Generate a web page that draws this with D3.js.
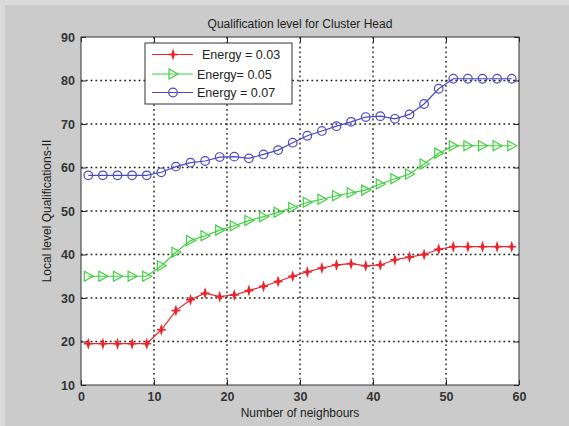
<!DOCTYPE html>
<html>
<head>
<meta charset="utf-8">
<script src="https://cdn.jsdelivr.net/npm/d3@7"></script>
<style>
  html, body { margin: 0; padding: 0; background: #d6d6d6; }
  svg { display: block; font-family: Arial, "Liberation Sans", sans-serif; }
</style>
</head>
<body>
<div id="chart"></div>
<script>
const neighbours = [1, 3, 5, 7, 9, 11, 13, 15, 17, 19, 21, 23, 25, 27, 29, 31, 33, 35, 37, 39, 41, 43, 45, 47, 49, 51, 53, 55, 57, 59];
const energy003 = [19.5, 19.5, 19.5, 19.5, 19.5, 22.7, 27.1, 29.6, 31.1, 30.3, 30.7, 31.7, 32.7, 33.8, 35.0, 36.0, 36.9, 37.6, 37.9, 37.4, 37.6, 38.8, 39.4, 40.0, 41.2, 41.8, 41.8, 41.8, 41.8, 41.8];
const energy005 = [35.0, 35.0, 35.0, 35.0, 35.0, 37.4, 40.5, 43.2, 44.3, 45.6, 46.6, 47.8, 48.7, 49.7, 50.8, 52.0, 52.7, 53.5, 54.2, 54.8, 56.2, 57.4, 58.5, 60.8, 63.3, 65.0, 65.0, 65.0, 65.0, 65.0];
const energy007 = [58.2, 58.2, 58.2, 58.2, 58.2, 58.9, 60.2, 61.1, 61.5, 62.4, 62.5, 62.1, 63.0, 64.0, 65.7, 67.3, 68.4, 69.5, 70.5, 71.6, 71.8, 71.2, 72.2, 74.6, 78.1, 80.4, 80.4, 80.4, 80.4, 80.4];
const seriesNames = ["Energy = 0.03", "Energy= 0.05", "Energy = 0.07"];
const xTicks = [0, 10, 20, 30, 40, 50, 60];
const yTicks = [10, 20, 30, 40, 50, 60, 70, 80, 90];

const width = 569, height = 426;
const margin = { top: 37, right: 50, bottom: 41, left: 81 };
const innerWidth = width - margin.left - margin.right;
const innerHeight = height - margin.top - margin.bottom;

const svg = d3.select("#chart").append("svg")
  .attr("width", width)
  .attr("height", height);

// figure background
svg.append("rect").attr("width", width).attr("height", height).attr("fill", "#dadada");
svg.append("rect").attr("x", 5).attr("y", 5).attr("width", width - 5).attr("height", height - 5).attr("fill", "#cbcbcb");

const g = svg.append("g").attr("transform", `translate(${margin.left},${margin.top})`);

const x = d3.scaleLinear().domain([0, 60]).range([0, innerWidth]);
const y = d3.scaleLinear().domain([10, 90]).range([innerHeight, 0]);

g.append("rect").attr("width", innerWidth).attr("height", innerHeight).attr("fill", "#fff");

// dotted grid
g.append("g").selectAll("line").data(xTicks.slice(1, -1)).join("line")
  .attr("x1", d => x(d)).attr("x2", d => x(d))
  .attr("y1", 0).attr("y2", innerHeight)
  .attr("stroke", "#222").attr("stroke-width", 1.4).attr("stroke-dasharray", "1.8,3");
g.append("g").selectAll("line").data(yTicks.slice(1, -1)).join("line")
  .attr("y1", d => y(d)).attr("y2", d => y(d))
  .attr("x1", 0).attr("x2", innerWidth)
  .attr("stroke", "#222").attr("stroke-width", 1.4).attr("stroke-dasharray", "1.8,3");

// axes (ticks inside, MATLAB style)
const axisStyle = sel => {
  sel.select(".domain").remove();
  sel.selectAll("line").attr("stroke", "#222");
  sel.selectAll("text").attr("fill", "#333").attr("font-size", 12.5).attr("font-weight", "bold");
};
const noLabels = sel => {
  sel.select(".domain").remove();
  sel.selectAll("line").attr("stroke", "#222");
  sel.selectAll("text").remove();
};
g.append("g").attr("transform", `translate(0,${innerHeight})`)
  .call(d3.axisBottom(x).tickValues(xTicks).tickSize(-5).tickPadding(7))
  .call(axisStyle);
g.append("g")
  .call(d3.axisTop(x).tickValues(xTicks).tickSize(-5))
  .call(noLabels);
g.append("g")
  .call(d3.axisLeft(y).tickValues(yTicks).tickSize(-5).tickPadding(6))
  .call(axisStyle);
g.append("g").attr("transform", `translate(${innerWidth},0)`)
  .call(d3.axisRight(y).tickValues(yTicks).tickSize(-5))
  .call(noLabels);

g.append("rect").attr("width", innerWidth).attr("height", innerHeight)
  .attr("fill", "none").attr("stroke", "#333").attr("stroke-width", 1);

// series
const series = [
  { name: seriesNames[0], values: energy003, color: "#e8262b", marker: "star" },
  { name: seriesNames[1], values: energy005, color: "#3fd03f", marker: "tri" },
  { name: seriesNames[2], values: energy007, color: "#4a4ac0", marker: "circle" }
];

const line = d3.line().x(d => x(d[0])).y(d => y(d[1]));

function drawMarker(sel, s) {
  if (s.marker === "circle") {
    sel.append("circle").attr("r", 4.3)
      .attr("fill", "none").attr("stroke", s.color).attr("stroke-width", 1.2);
  } else if (s.marker === "tri") {
    sel.append("path").attr("d", "M-4,-5L5,0L-4,5Z")
      .attr("fill", "none").attr("stroke", s.color).attr("stroke-width", 1.2);
  } else {
    sel.append("path").attr("d", "M0,-6L2,0L0,6L-2,0Z").attr("fill", s.color);
    sel.append("path").attr("d", "M-4.5,0H4.5").attr("stroke", s.color).attr("stroke-width", 1.6);
  }
}

series.forEach(s => {
  const pts = neighbours.map((n, i) => [n, s.values[i]]);
  g.append("path").datum(pts).attr("d", line)
    .attr("fill", "none").attr("stroke", s.color).attr("stroke-width", 1.2);
  g.append("g").selectAll("g").data(pts).join("g")
    .attr("transform", d => `translate(${x(d[0])},${y(d[1])})`)
    .each(function () { drawMarker(d3.select(this), s); });
});

// legend
const legend = svg.append("g").attr("transform", "translate(145,43)");
legend.append("rect").attr("width", 147).attr("height", 61)
  .attr("fill", "#fff").attr("stroke", "#333").attr("stroke-width", 1);
const legendY = [11.5, 31, 49.5];
const textX = [57, 52, 52];
series.forEach((s, i) => {
  const row = legend.append("g").attr("transform", `translate(0,${legendY[i]})`);
  row.append("line").attr("x1", 7).attr("x2", 48).attr("stroke", s.color).attr("stroke-width", 1.2);
  drawMarker(row.append("g").attr("transform", "translate(28,0)"), s);
  row.append("text").attr("x", textX[i]).attr("y", 4.5)
    .attr("font-size", 12.5).attr("fill", "#222").text(s.name);
});

// titles
svg.append("text").attr("x", margin.left + innerWidth / 2).attr("y", 28)
  .attr("text-anchor", "middle").attr("font-size", 12).attr("fill", "#222")
  .text("Qualification level for Cluster Head");
svg.append("text").attr("x", margin.left + innerWidth / 2).attr("y", 417)
  .attr("text-anchor", "middle").attr("font-size", 12).attr("fill", "#222")
  .text("Number of neighbours");
svg.append("text").attr("transform", `translate(51,${margin.top + innerHeight / 2}) rotate(-90)`)
  .attr("text-anchor", "middle").attr("font-size", 12).attr("fill", "#222")
  .text("Local level Qualifications-II");
</script>
</body>
</html>
